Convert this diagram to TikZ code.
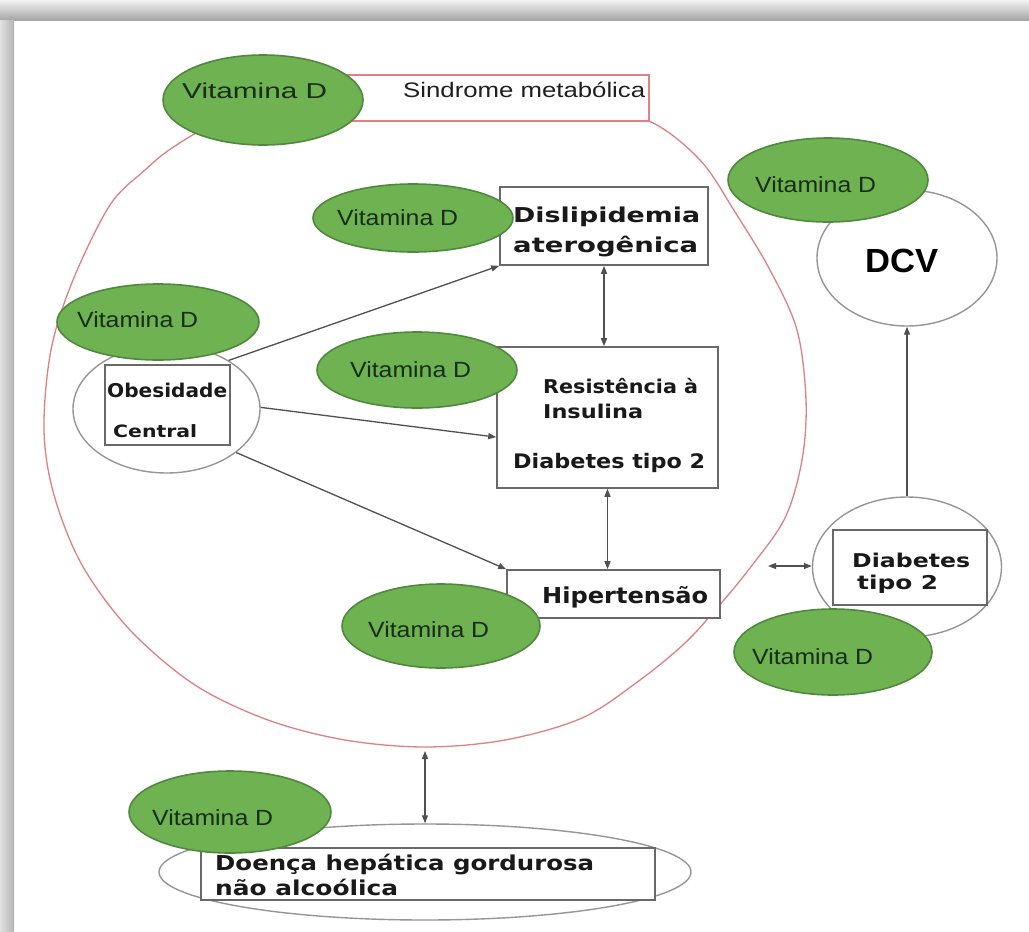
\documentclass[tikz,border=0pt]{standalone}
\usepackage{fontspec}
\usepackage{graphicx}
\usetikzlibrary{shapes.geometric,arrows.meta}
\setmainfont{Liberation Sans}
\newfontfamily\heavyfont{DejaVu Sans}

\definecolor{vdfill}{RGB}{110,178,82}
\definecolor{vdline}{RGB}{80,136,62}
\definecolor{vdink}{RGB}{24,44,24}
\definecolor{msred}{RGB}{222,128,132}
\definecolor{ringgray}{RGB}{150,150,150}
\definecolor{boxgray}{RGB}{105,105,105}
\definecolor{arrowgray}{RGB}{80,80,80}
\definecolor{bandlight}{RGB}{242,242,242}
\definecolor{bandmid}{RGB}{214,214,214}
\definecolor{banddark}{RGB}{166,166,166}
\definecolor{sidelight}{RGB}{226,226,226}
\definecolor{sidedark}{RGB}{180,180,180}

% "Vitamina D" label: size, target width
\newcommand\vitd[2]{\fontsize{#1}{#1}\selectfont\resizebox{#2}{\height}{Vitamina D}}
% heavy label: size, target width, text
\newcommand\heavytext[3]{{\heavyfont\bfseries\fontsize{#1}{#1}\selectfont\resizebox{#2}{\height}{#3}}}

\begin{document}
\begin{tikzpicture}[x=1pt,y=-1pt,
  vd/.style={ellipse, draw=vdline, fill=vdfill, line width=1.6pt, inner sep=0pt},
  ring/.style={ellipse, draw=ringgray, fill=white, line width=1.4pt, inner sep=0pt},
  panel/.style={rectangle, draw=boxgray, fill=white, line width=1.6pt, inner sep=0pt},
  msbox/.style={rectangle, draw=msred, fill=white, line width=1.4pt, inner sep=0pt},
  lbl/.style={anchor=base west, inner sep=0pt, text=vdink},
  hlbl/.style={anchor=base west, inner sep=0pt, text=black!90},
  tip/.tip={Triangle[length=8pt,width=6pt]},
  conn/.style={draw=arrowgray, line width=1.3pt, -tip},
  dconn/.style={draw=arrowgray, line width=1.3pt, tip-tip}]

\useasboundingbox (0,0) rectangle (1029,932);
\fill[white] (0,0) rectangle (1029,932);

% frame shadow bands
\shade[top color=bandlight, middle color=bandmid, bottom color=banddark] (0,0) rectangle (1029,20);
\shade[left color=sidelight, right color=sidedark] (0,20) rectangle (14,932);

% metabolic syndrome outline
\draw[msred, line width=1.3pt] plot[smooth cycle, tension=0.55] coordinates {
  (649,121) (700,160) (735,212) (770,270) (797,330) (806,400) (802,460)
  (785,518) (750,568) (717,608) (685,643) (640,680) (582,718) (505,740)
  (425,747) (345,740) (268,720) (195,685) (130,630) (82,565) (54,495)
  (44,430) (51,350) (73,280) (110,205) (145,170) (172,148) (215,124)
  (280,106) (380,97) (480,98) (580,107)};
\coordinate (ms-s) at (425,751);
\coordinate (ms-e) at (768,566);

\node[msbox, minimum width=319, minimum height=46] (ms) at (489.5,98) {};
\node[vd, minimum width=200, minimum height=90] (ms-vd) at (263,100) {};

% rings
\node[ring, minimum width=187, minimum height=128] (obring) at (166.5,409) {};
\node[ring, minimum width=189, minimum height=140] (dmring) at (907,567) {};
\node[ring, minimum width=180, minimum height=136] (dcv) at (907,258) {};
\node[ring, minimum width=532, minimum height=96] (nafring) at (425,872) {};

% boxes
\node[panel, minimum width=208, minimum height=78] (disl) at (604,226) {};
\node[panel, minimum width=221, minimum height=141] (res) at (607.5,417.5) {};
\node[panel, minimum width=213, minimum height=48] (hip) at (613.5,594) {};
\node[panel, minimum width=125, minimum height=80] (obbox) at (167.5,405) {};
\node[panel, minimum width=154, minimum height=75] (dmbox) at (910,567.5) {};
\node[panel, minimum width=454, minimum height=52] (nafbox) at (428,874) {};

% connectors
\draw[conn] (obring.38) -- (disl.south west);
\draw[conn] (obring.1) -- (res.190);
\draw[conn] (obring.-32) -- (hip.north west);
\draw[dconn] (disl.south) -- (disl.south |- res.north);
\draw[dconn] (res.south) -- (res.south |- hip.north);
\draw[dconn] (ms-e) -- (dmring.west |- ms-e);
\draw[conn] (dmring.north) -- (dcv.south);
\draw[dconn] (ms-s) -- (nafring.north);

% vitamin D ellipses
\node[vd, minimum width=200, minimum height=68] (disl-vd) at (413,218) {};
\node[vd, minimum width=202, minimum height=76] (ob-vd) at (158,322) {};
\node[vd, minimum width=200, minimum height=76] (res-vd) at (417,370) {};
\node[vd, minimum width=198, minimum height=84] (hip-vd) at (441,626) {};
\node[vd, minimum width=198, minimum height=86] (dm-vd) at (833,652) {};
\node[vd, minimum width=200, minimum height=84] (dcv-vd) at (828,180) {};
\node[vd, minimum width=202, minimum height=82] (naf-vd) at (230,812) {};

% labels
\node[lbl] (ms-vdt) at (182,98) {\vitd{21.5}{145pt}};
\node[lbl, text=black!88] (ms-t) at (403,97) {\fontsize{21}{21}\selectfont\resizebox{242pt}{\height}{Sindrome metabólica}};
\node[lbl] (disl-vdt) at (337,225) {\vitd{22}{121pt}};
\node[lbl] (ob-vdt) at (77,327) {\vitd{22}{121pt}};
\node[lbl] (res-vdt) at (350,377) {\vitd{22}{121pt}};
\node[lbl] (hip-vdt) at (368,637) {\vitd{22}{121pt}};
\node[lbl] (dm-vdt) at (752,664) {\vitd{22}{121pt}};
\node[lbl] (dcv-vdt) at (755,192) {\vitd{22}{121pt}};
\node[lbl] (naf-vdt) at (152,825) {\vitd{22}{121pt}};

\node[hlbl] (disl-t1) at (513,222) {\heavytext{20.5}{187pt}{Dislipidemia}};
\node[hlbl] (disl-t2) at (513,252) {\heavytext{20.5}{185pt}{aterogênica}};
\node[hlbl] (ob-t1) at (107,397) {\heavytext{19}{120pt}{Obesidade}};
\node[hlbl] (ob-t2) at (113,437) {\heavytext{17}{84pt}{Central}};
\node[hlbl] (res-t1) at (543,393) {\heavytext{19}{155pt}{Resistência à}};
\node[hlbl] (res-t2) at (543,418) {\heavytext{19}{100pt}{Insulina}};
\node[hlbl] (res-t3) at (513,468) {\heavytext{20}{192pt}{Diabetes tipo 2}};
\node[hlbl] (hip-t) at (542,603) {\heavytext{22}{166pt}{Hipertensão}};
\node[hlbl] (dm-t1) at (852,567) {\heavytext{19}{118pt}{Diabetes}};
\node[hlbl] (dm-t2) at (857,589) {\heavytext{19}{81pt}{tipo 2}};
\node[hlbl] (naf-t1) at (215,870) {\heavytext{20.5}{379pt}{Doença hepática gordurosa}};
\node[hlbl] (naf-t2) at (215,895) {\heavytext{20.5}{183pt}{não alcoólica}};
\node[hlbl, text=black] (dcv-t) at (865,272) {\fontsize{33.5}{33.5}\selectfont\bfseries\resizebox{73pt}{\height}{DCV}};

\end{tikzpicture}
\end{document}
